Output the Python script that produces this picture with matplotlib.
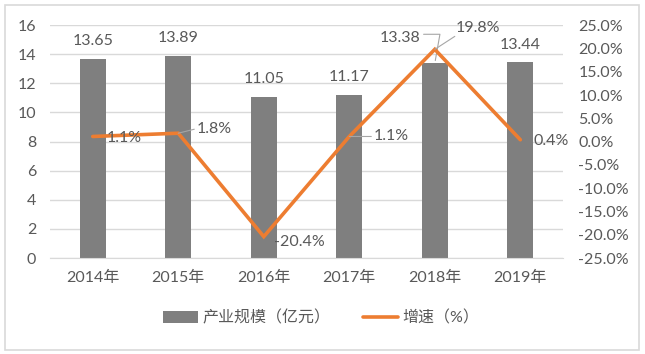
import matplotlib.pyplot as plt
import numpy as np
from matplotlib.patches import Rectangle

plt.rcParams['font.family'] = ['Lato', 'Noto Sans CJK SC', 'DejaVu Sans']

years = ['2014年', '2015年', '2016年', '2017年', '2018年', '2019年']
scale = [13.65, 13.89, 11.05, 11.17, 13.38, 13.44]  # 产业规模（亿元）
growth = [1.1, 1.8, -20.4, 1.1, 19.8, 0.4]  # 增速（%）

bar_color = '#7f7f7f'
line_color = '#ed7d31'
text_color = '#595959'
grid_color = '#d9d9d9'

fig = plt.figure(figsize=(6.45, 3.54), dpi=100)
ax = fig.add_axes([0.0775, 0.271, 0.7955, 0.658])
ax2 = ax.twinx()

x = np.arange(len(years))
bars = ax.bar(x, scale, width=0.3, color=bar_color, label='产业规模（亿元）', zorder=2)
line, = ax2.plot(x, growth, color=line_color, lw=2.6, label='增速（%）', zorder=3,
                 solid_capstyle='round', solid_joinstyle='miter')

ax.set_xlim(-0.5, len(years) - 0.5)
ax.set_ylim(0, 16)
ax.set_yticks(np.arange(0, 17, 2))
ax2.set_ylim(-25, 25)
ax2.set_yticks(np.arange(-25, 26, 5))
ax2.set_yticklabels([f'{v:.1f}%' for v in np.arange(-25, 26, 5)])
ax.set_xticks(x, years)

ax.grid(axis='y', color=grid_color, lw=1, zorder=0)
ax.set_axisbelow(True)
for a in (ax, ax2):
    for s in a.spines.values():
        s.set_visible(False)
    a.tick_params(length=0, colors=text_color, labelsize=11.5)
ax.spines['bottom'].set_visible(True)
ax.spines['bottom'].set_color(grid_color)
ax.tick_params(axis='y', pad=10)
ax.tick_params(axis='x', pad=9)
ax2.tick_params(axis='y', pad=11)
ax2.set_zorder(ax.get_zorder() + 1)
ax2.patch.set_visible(False)

# bar value labels
bar_offsets = [(0, 18), (0, 18), (0, 18), (0, 18), (-35, 25), (0, 17)]
for i, v in enumerate(scale):
    ax.annotate(f'{v:.2f}', (x[i], v), xytext=bar_offsets[i], textcoords='offset pixels',
                ha='center', va='center', fontsize=11.5, color=text_color, zorder=5)
# leader for 2018 bar label
ax.annotate('', (x[4], scale[4]), xytext=(-14, 29), textcoords='offset pixels',
            arrowprops=dict(arrowstyle='-', color='#a6a6a6', lw=0.8,
                            connectionstyle='angle,angleA=0,angleB=80,rad=0'))

# growth labels
grow_offsets = [(32, -2), (36, 4), (36, -5), (42, 0), (43, 21), (31, -1)]
for i, v in enumerate(growth):
    ax2.annotate(f'{v:.1f}%', (x[i], v), xytext=grow_offsets[i], textcoords='offset pixels',
                 ha='center', va='center', fontsize=11.5, color=text_color, zorder=5)
ax2.annotate('', (x[1], growth[1]), xytext=(16, 4), textcoords='offset pixels',
             arrowprops=dict(arrowstyle='-', color='#a6a6a6', lw=0.8, shrinkA=0, shrinkB=0))
ax2.annotate('', (x[3], growth[3]), xytext=(22, 0), textcoords='offset pixels',
             arrowprops=dict(arrowstyle='-', color='#a6a6a6', lw=0.8, shrinkA=0, shrinkB=0))
ax2.annotate('', (x[4], growth[4]), xytext=(20, 13), textcoords='offset pixels',
             arrowprops=dict(arrowstyle='-', color='#a6a6a6', lw=0.8, shrinkA=0, shrinkB=0))

fig.legend(handles=[bars, line], loc='center', bbox_to_anchor=(0.498, 0.102), ncol=2,
           frameon=False, fontsize=11.5, labelcolor=text_color, handlelength=2.2,
           handleheight=0.7, columnspacing=2.0, handletextpad=0.3)

fig.patches.append(Rectangle((5 / 645, 4 / 354), 634 / 645, 345 / 354, transform=fig.transFigure,
                             fill=False, edgecolor=grid_color, lw=1.2))

fig.savefig('out.png', dpi=100)
